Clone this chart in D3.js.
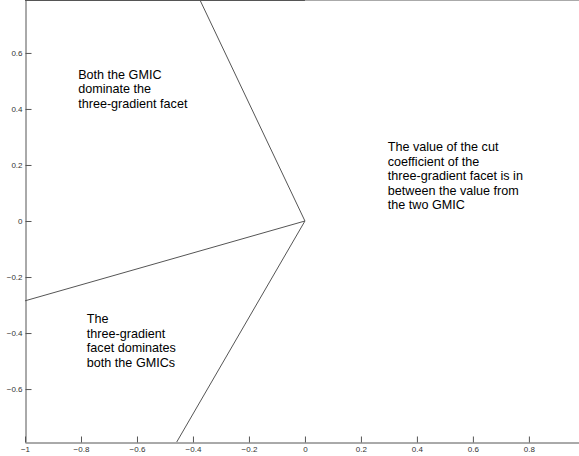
<!DOCTYPE html>
<html>
<head>
<meta charset="utf-8">
<script src="https://cdn.jsdelivr.net/npm/d3@7"></script>
<style>
  body { margin: 0; background: #fff; }
  .axis path, .axis line { stroke: #555; }
  .axis text { font-family: "Liberation Sans", Arial, sans-serif; font-size: 8px; fill: #333; }
  .note { font-family: "Liberation Sans", Arial, sans-serif; font-size: 12.6px; fill: #000; }
</style>
</head>
<body>
<div id="chart"></div>
<script>
// data: rays leaving the origin, ending on the plot border
const rayX = [-0.375, -1, -0.458]
const rayY = [0.789, -0.285, -0.789]
// dark segment along top edge
const topX = [-1, 0]
const topY = [0.789, 0.789]

const xTicks = [-1, -0.8, -0.6, -0.4, -0.2, 0, 0.2, 0.4, 0.6, 0.8]
const yTicks = [-0.6, -0.4, -0.2, 0, 0.2, 0.4, 0.6]

const notes = [
    { x: -0.81, y: 0.508, lines: ["Both the GMIC", "dominate the", "three-gradient facet"] },
    { x: 0.296, y: 0.25, lines: ["The value of the cut", "coefficient of the", "three-gradient facet is in", "between the value from", "the two GMIC"] },
    { x: -0.779, y: -0.364, lines: ["The", "three-gradient", "facet dominates", "both the GMICs"] }
]

let width = 579, height = 456
let margin = { left: 25, right: 0, top: 0, bottom: 14 }

let svg = d3.select("#chart").append("svg")
    .attr("width", width)
    .attr("height", height)

let x = d3.scaleLinear()
    .domain([-1, 0.979])
    .range([margin.left, width - margin.right])

let y = d3.scaleLinear()
    .domain([-0.789, 0.789])
    .range([height - margin.bottom, margin.top])

// top frame line (light)
svg.append("line")
    .attr("x1", x(-1)).attr("x2", width)
    .attr("y1", 0.5).attr("y2", 0.5)
    .attr("stroke", "#aaa")

svg.append("line")
    .attr("x1", x(topX[0])).attr("x2", x(topX[1]))
    .attr("y1", 0.5).attr("y2", 0.5)
    .attr("stroke", "#555")

// axes
let xAxis = d3.axisBottom(x)
    .tickValues(xTicks)
    .tickFormat(d => d3.format("")(+d.toFixed(1)))
    .tickSizeInner(-6)
    .tickSizeOuter(0)
    .tickPadding(4)

svg.append("g")
    .attr("class", "axis x-axis")
    .attr("transform", "translate(0," + (y(-0.789) + 0.5) + ")")
    .call(xAxis)

let yAxis = d3.axisLeft(y)
    .tickValues(yTicks)
    .tickFormat(d => d3.format("")(+d.toFixed(1)))
    .tickSizeInner(-6)
    .tickSizeOuter(0)
    .tickPadding(3)

svg.append("g")
    .attr("class", "axis y-axis")
    .attr("transform", "translate(" + (x(-1) + 0.5) + ",0)")
    .call(yAxis)

// rays
svg.selectAll(".ray")
    .data(rayX.map((d, i) => ({ x: d, y: rayY[i] })))
    .enter().append("line")
    .attr("class", "ray")
    .attr("x1", x(0)).attr("y1", y(0))
    .attr("x2", d => x(d.x)).attr("y2", d => y(d.y))
    .attr("stroke", "#555")
    .attr("stroke-width", 1)

// annotations
notes.forEach(n => {
    let t = svg.append("text")
        .attr("class", "note")
        .attr("x", x(n.x))
        .attr("y", y(n.y))
    t.selectAll("tspan")
        .data(n.lines)
        .enter().append("tspan")
        .attr("x", x(n.x))
        .attr("dy", (d, i) => i === 0 ? 0 : 14.6)
        .text(d => d)
})
</script>
</body>
</html>
